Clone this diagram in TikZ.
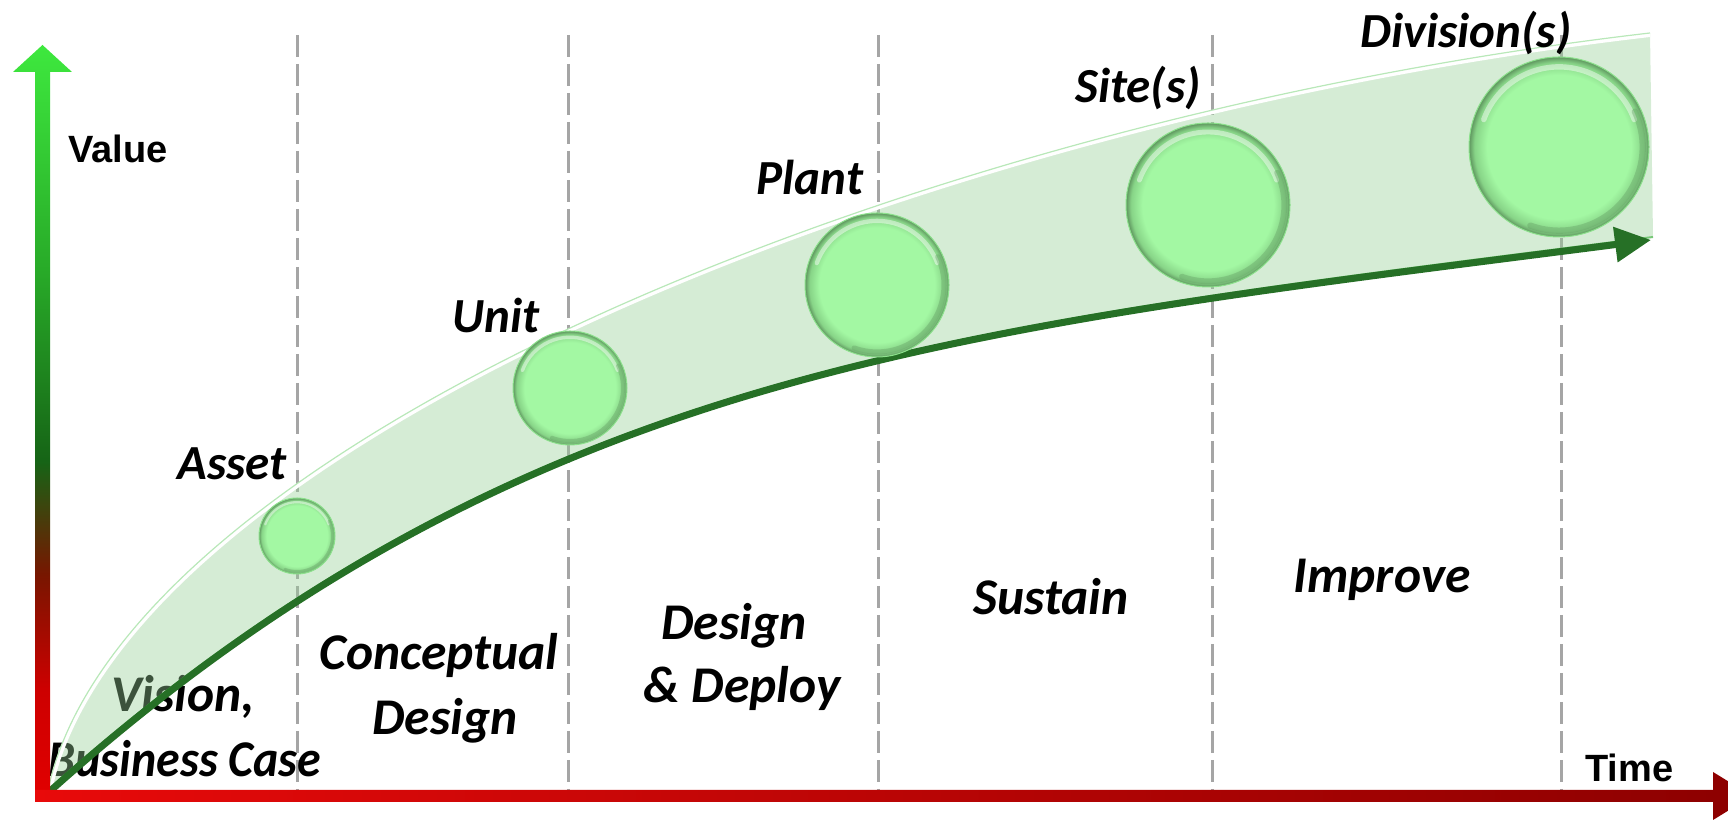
\documentclass[tikz,border=0pt]{standalone}
\usepackage{fontspec}
\setmainfont{Carlito}
\newfontfamily\arialf{Liberation Sans}
\usetikzlibrary{arrows.meta}
\definecolor{axa}{RGB}{226,0,0}
\definecolor{axb}{RGB}{205,0,0}
\definecolor{axc}{RGB}{120,22,0}
\definecolor{axd}{RGB}{22,100,22}
\definecolor{axe}{RGB}{40,170,40}
\definecolor{axf}{RGB}{62,232,62}
\definecolor{axl}{RGB}{232,10,10}
\definecolor{axr}{RGB}{140,0,0}
\definecolor{bfill}{RGB}{163,248,163}
\definecolor{brim}{RGB}{135,212,135}
\definecolor{bedge}{RGB}{95,150,95}
\definecolor{bline}{RGB}{140,225,140}
\definecolor{bandc}{RGB}{150,207,150}
\definecolor{bandedge}{RGB}{185,232,185}
\definecolor{arrowg}{RGB}{38,112,38}
\definecolor{arrowlt}{RGB}{120,200,120}
\definecolor{dashc}{RGB}{165,165,165}
\pgfdeclareverticalshading{vaxis}{100bp}{color(0bp)=(axa); color(25bp)=(axa); color(32.5bp)=(axb); color(40bp)=(axc); color(47.5bp)=(axd); color(60bp)=(axe); color(75bp)=(axf); color(100bp)=(axf)}
\pgfdeclareradialshading{beadsh}{\pgfpoint{0bp}{0bp}}{color(0bp)=(bfill); color(20bp)=(bfill); color(23.5bp)=(brim); color(25bp)=(bedge); color(50bp)=(bedge)}
\newcommand\beadhl[2]{%
  \draw[white, opacity=.45, line width=#2*0.03pt, line cap=round]
    ([shift={(160:#2*0.445pt)}]#1.center) arc[start angle=160, end angle=20, radius=#2*0.445pt];
  \draw[bedge, opacity=.35, line width=#2*0.035pt, line cap=round]
    ([shift={(25:#2*0.465pt)}]#1.center) arc[start angle=25, end angle=-110, radius=#2*0.465pt];}
\tikzset{
  phase/.style={font=\bfseries\itshape\fontsize{25.75}{30}\selectfont, inner sep=0pt, anchor=base},
  level/.style={font=\bfseries\itshape\fontsize{24.5}{29}\selectfont, inner sep=0pt, anchor=base},
  axlabel/.style={font=\arialf\bfseries\fontsize{19}{22}\selectfont, inner sep=0pt, anchor=base west},
  guide/.style={dashc, line width=1.5pt, dash pattern=on 11pt off 3.5pt},
  bead/.style={circle, inner sep=0pt, shading=beadsh, draw=bline, line width=0.5pt},
}
\begin{document}
\begin{tikzpicture}[x=0.5pt, y=0.5pt]
\useasboundingbox (0,0) rectangle (1728,822);
% guides
\foreach \gx/\gn in {297/ga,568/gb,878/gc,1212/gd,1561/ge}{
  \coordinate (\gn t) at (\gx,787);
  \coordinate (\gn b) at (\gx,32);
  \draw[guide] (\gn t) -- (\gn b);
}
% phase texts
\node[phase] (vis1) at (183,110) {Vision,};
\node[phase] (vis2) at (185,45) {\scalebox{0.93}[1]{Business Case}};
\node[phase] (con1) at (439,152) {Conceptual};
\node[phase] (con2) at (445,87) {Design};
\node[phase] (dep1) at (734,182) {Design};
\node[phase] (dep2) at (742,119) {\& Deploy};
\node[phase] (sus) at (1051,207) {Sustain};
\node[phase] (imp) at (1382,229) {Improve};
% band
\coordinate (o) at (48,32);
\coordinate (ue) at (1650,789);
\coordinate (le) at (1653,585);
\fill[bandc, fill opacity=.4] (o) .. controls (120,372) and (900,702) .. (ue) -- (le) .. controls (950,495) and (520,455) .. (o) -- cycle;
\begin{scope}
  \clip (o) .. controls (120,372) and (900,702) .. (ue) -- (le) .. controls (950,495) and (520,455) .. (o) -- cycle;
  \draw[white, line width=4pt] (o) .. controls (120,372) and (900,702) .. (ue);
\end{scope}
\draw[bandedge, line width=0.6pt] (o) .. controls (120,372) and (900,702) .. (ue);
\draw[arrowlt, line width=1pt] (o) .. controls (520,455) and (950,495) .. (le);
\draw[arrowg, line width=3.5pt, -{Triangle[length=18pt,width=17pt]}] ([yshift=-1.5pt]o) .. controls (520,452) and (950,492) .. (1651,582);
% beads
\node[bead, minimum size=38pt] (asset) at (297,286) {};
\node[bead, minimum size=57pt] (unit) at (570,434) {};
\node[bead, minimum size=72pt] (plant) at (877,537) {};
\node[bead, minimum size=82pt] (site) at (1208,617) {};
\node[bead, minimum size=90pt] (div) at (1559,675) {};
\beadhl{asset}{38}
\beadhl{unit}{57}
\beadhl{plant}{72}
\beadhl{site}{82}
\beadhl{div}{90}
% level labels
\node[level] (lasset) at (232,342) {Asset};
\node[level] (lunit) at (496,489) {Unit};
\node[level] (lplant) at (810,627) {Plant};
\node[level] (lsite) at (1138,719) {Site(s)};
\node[level] (ldiv) at (1466,774) {Division(s)};
% axes
\shade[shading=vaxis] (35,20) -- (35,750) -- (13,750) -- (42.5,777) -- (72,750) -- (50,750) -- (50,20) -- cycle;
\shade[left color=axl, right color=axr] (35,20) -- (1713,20) -- (1713,2) -- (1752,26) -- (1713,50) -- (1713,32) -- (35,32) -- cycle;
\node[axlabel] (value) at (68,659) {Value};
\node[axlabel] (time) at (1585,40) {Time};
\end{tikzpicture}
\end{document}
